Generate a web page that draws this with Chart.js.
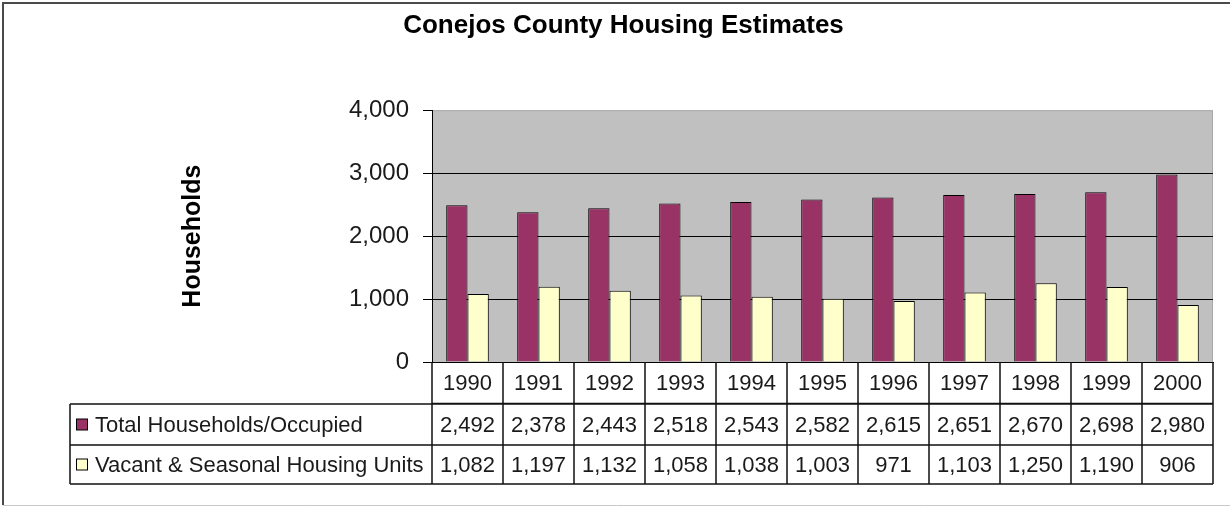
<!DOCTYPE html>
<html>
<head>
<meta charset="utf-8">
<title>Conejos County Housing Estimates</title>
<script src="https://cdn.jsdelivr.net/npm/chart.js@4/dist/chart.umd.min.js"></script>
<style>
    body { margin: 0; background: #fff; }
    canvas { display: block; }
</style>
</head>
<body>
<canvas id="housingChart" width="1230" height="506"></canvas>
<script>
const years = ['1990', '1991', '1992', '1993', '1994', '1995', '1996', '1997', '1998', '1999', '2000'];
const occupied = [2492, 2378, 2443, 2518, 2543, 2582, 2615, 2651, 2670, 2698, 2980];
const vacant = [1082, 1197, 1132, 1058, 1038, 1003, 971, 1103, 1250, 1190, 906];
const seriesNames = ['Total Households/Occupied', 'Vacant & Seasonal Housing Units'];
const seriesColors = ['#993366', '#FFFFCC'];

const fontFamily = "'Liberation Sans', Arial, sans-serif";

// white page, gray plot background and the frame around everything
const backgroundPlugin = {
    id: 'background',
    beforeDraw: (chart) => {
        const ctx = chart.ctx;
        const area = chart.chartArea;
        ctx.save();
        ctx.fillStyle = '#fff';
        ctx.fillRect(0, 0, chart.width, chart.height);
        ctx.fillStyle = '#C0C0C0';
        ctx.fillRect(area.left, area.top, area.right - area.left, area.bottom - area.top);
        // lighter edge on top and right of the plot
        ctx.strokeStyle = '#a8a8a8';
        ctx.lineWidth = 1;
        ctx.beginPath();
        ctx.moveTo(area.left, area.top + 0.5);
        ctx.lineTo(area.right - 0.5, area.top + 0.5);
        ctx.lineTo(area.right - 0.5, area.bottom);
        ctx.stroke();

        ctx.strokeStyle = '#4a4a4a';
        ctx.lineWidth = 2;
        ctx.beginPath();
        ctx.moveTo(3, 505);
        ctx.lineTo(3, 3);
        ctx.lineTo(chart.width, 3);
        ctx.stroke();
        ctx.strokeStyle = '#c8c8c8';
        ctx.lineWidth = 1;
        ctx.beginPath();
        ctx.moveTo(3, 505.5);
        ctx.lineTo(chart.width, 505.5);
        ctx.stroke();
        ctx.restore();
    }
};

// data table under the plot, columns follow the x scale
const dataTablePlugin = {
    id: 'dataTable',
    afterDraw: (chart) => {
        const ctx = chart.ctx;
        const xScale = chart.scales.x;
        const colWidth = (xScale.right - xScale.left) / years.length;
        const rowHeights = [42, 41, 39];
        const top = chart.chartArea.bottom;
        const rowTops = [top, top + rowHeights[0], top + rowHeights[0] + rowHeights[1]];
        const bottom = rowTops[2] + rowHeights[2];
        const labelLeft = 70;

        ctx.save();
        ctx.font = '22px ' + fontFamily;
        ctx.fillStyle = '#1a1a1a';
        ctx.textAlign = 'center';
        ctx.textBaseline = 'middle';

        const rows = [years, occupied, vacant];
        rows.forEach((row, r) => {
            const cy = rowTops[r] + rowHeights[r] / 2 + 1;
            row.forEach((v, i) => {
                const cx = xScale.getPixelForValue(i);
                const txt = r === 0 ? v : v.toLocaleString('en-US');
                ctx.fillText(txt, cx, cy);
            });
        });

        // series labels with their colour keys
        ctx.textAlign = 'left';
        seriesNames.forEach((name, s) => {
            const r = s + 1;
            const cy = rowTops[r] + rowHeights[r] / 2;
            ctx.fillStyle = seriesColors[s];
            ctx.fillRect(76.5, cy - 5.5, 11, 11);
            ctx.strokeStyle = '#000';
            ctx.lineWidth = 1;
            ctx.strokeRect(76.5, cy - 5.5, 11, 11);
            ctx.fillStyle = '#1a1a1a';
            ctx.fillText(name, 95, cy + 1);
        });

        // grid lines of the table
        ctx.strokeStyle = '#111';
        ctx.lineWidth = 1.5;
        ctx.beginPath();
        for (let i = 0; i <= years.length; i++) {
            const x = Math.round(xScale.left + i * colWidth);
            ctx.moveTo(x, top);
            ctx.lineTo(x, bottom);
        }
        ctx.moveTo(xScale.left, rowTops[0] + rowHeights[0] - 0.5);
        ctx.lineTo(xScale.right, rowTops[0] + rowHeights[0] - 0.5);
        ctx.moveTo(labelLeft, rowTops[1]);
        ctx.lineTo(xScale.right, rowTops[1]);
        ctx.moveTo(labelLeft, rowTops[2]);
        ctx.lineTo(xScale.right, rowTops[2]);
        ctx.moveTo(labelLeft, bottom);
        ctx.lineTo(xScale.right, bottom);
        ctx.moveTo(labelLeft, rowTops[1]);
        ctx.lineTo(labelLeft, bottom);
        ctx.stroke();
        ctx.restore();
    }
};

const ctx = document.getElementById('housingChart').getContext('2d');

const housingChart = new Chart(ctx, {
    type: 'bar',
    data: {
        labels: years,
        datasets: [{
            label: seriesNames[0],
            data: occupied,
            backgroundColor: seriesColors[0],
            borderColor: '#000',
            borderWidth: 1
        }, {
            label: seriesNames[1],
            data: vacant,
            backgroundColor: seriesColors[1],
            borderColor: '#000',
            borderWidth: 1
        }]
    },
    options: {
        responsive: false,
        animation: false,
        devicePixelRatio: 1,
        layout: {
            padding: { left: 34, right: 17, top: 0, bottom: 0 }
        },
        datasets: {
            bar: {
                categoryPercentage: 0.6,
                barPercentage: 1.0
            }
        },
        plugins: {
            legend: { display: false },
            tooltip: { enabled: false },
            title: {
                display: true,
                text: 'Conejos County Housing Estimates',
                color: '#000',
                font: { family: fontFamily, size: 26, weight: 'bold' },
                padding: { top: 10, bottom: 69 }
            }
        },
        scales: {
            x: {
                grid: { display: false },
                border: { display: true, color: '#000', width: 1 },
                ticks: { display: false },
                afterFit: (scale) => { scale.height = 144; }
            },
            y: {
                min: 0,
                max: 4000,
                ticks: {
                    stepSize: 1000,
                    color: '#1a1a1a',
                    padding: 14,
                    font: { family: fontFamily, size: 24 },
                    callback: (v) => v.toLocaleString('en-US')
                },
                grid: {
                    color: (c) => (c.tick && c.tick.value === 4000) ? 'rgba(0,0,0,0)' : '#000',
                    tickColor: '#000',
                    tickLength: 9,
                    lineWidth: 1
                },
                border: { display: true, color: '#000', width: 1 },
                title: {
                    display: true,
                    text: 'Households',
                    color: '#000',
                    font: { family: fontFamily, size: 25, weight: 'bold' },
                    padding: { top: 144, bottom: 0 }
                },
                afterFit: (scale) => { scale.width = 398; }
            }
        }
    },
    plugins: [backgroundPlugin, dataTablePlugin]
});
</script>
</body>
</html>
